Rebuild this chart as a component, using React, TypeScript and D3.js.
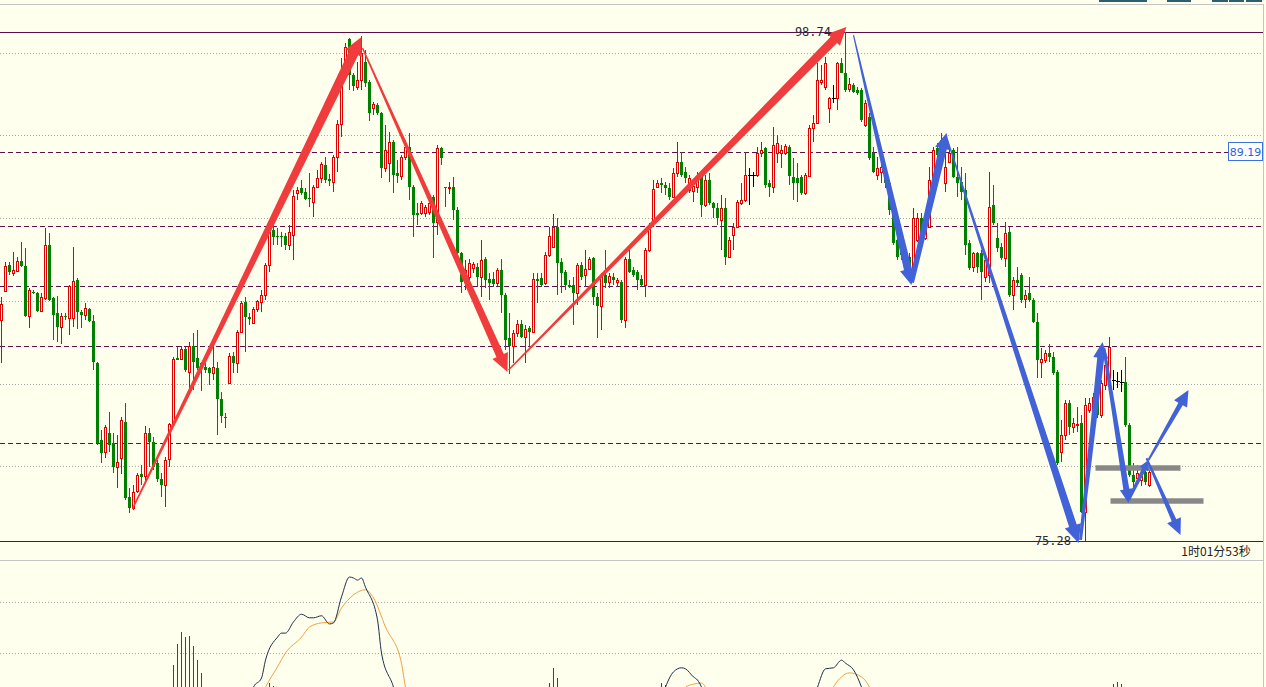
import React from 'react';
import * as d3 from 'd3';

// ---------- DATA ----------
const opens = [
  85.47, 86.80, 88.00, 87.63, 87.73, 88.19, 87.96, 85.65, 86.76, 86.71,
  85.88, 86.48, 88.93, 86.48, 85.79, 85.15, 85.65, 85.56, 85.56, 87.31,
  85.84, 85.70, 85.98, 85.42, 83.49, 79.94, 79.38, 80.26, 79.80, 78.69,
  79.11, 80.77, 77.31, 76.80, 77.59, 78.37, 78.28, 80.26, 79.84, 78.88,
  78.14, 77.86, 79.06, 80.67, 83.72, 83.67, 84.13, 83.07, 84.27, 83.72,
  83.30, 83.30, 83.26, 83.03, 83.26, 81.83, 81.00, 82.56, 83.81, 83.49,
  84.91, 86.30, 85.61, 85.33, 85.98, 86.30, 86.62, 88.00, 89.62, 89.34,
  89.34, 89.34, 88.93, 89.38, 91.32, 91.55, 91.37, 91.09, 90.91, 91.60,
  92.01, 92.61, 91.97, 91.83, 92.98, 94.50, 96.99, 98.42, 96.76, 96.21,
  96.53, 97.36, 96.44, 95.24, 95.38, 95.01, 92.47, 92.70, 93.67, 92.24,
  92.10, 92.98, 93.44, 91.60, 90.40, 90.40, 90.40, 90.45, 91.14, 89.99,
  93.40, 91.60, 91.55, 91.60, 90.54, 88.56, 87.22, 87.45, 87.87, 87.91,
  87.45, 88.28, 87.36, 87.36, 87.17, 87.77, 86.62, 84.64, 84.27, 84.87,
  85.28, 84.68, 85.10, 84.91, 87.36, 87.40, 87.17, 88.46, 88.83, 89.76,
  88.14, 87.68, 87.08, 87.08, 86.71, 88.00, 87.54, 87.82, 88.32, 86.53,
  86.11, 87.54, 87.22, 87.45, 87.22, 87.22, 85.47, 88.28, 87.77, 87.68,
  87.36, 87.08, 88.69, 89.99, 91.60, 91.78, 91.69, 91.55, 91.14, 92.24,
  92.75, 92.29, 91.46, 91.41, 91.60, 92.06, 90.77, 91.92, 90.86, 90.63,
  90.08, 90.63, 88.37, 89.39, 89.76, 90.86, 91.00, 92.15, 92.15, 92.15,
  93.16, 93.40, 91.78, 91.60, 93.16, 93.16, 93.16, 93.44, 92.06, 92.01,
  92.06, 91.32, 92.10, 94.32, 94.55, 96.44, 96.21, 95.24, 95.70, 95.70,
  97.32, 96.85, 96.12, 96.30, 96.07, 96.07, 94.45, 94.82, 93.16, 92.15,
  92.29, 92.06, 91.78, 90.45, 89.15, 88.69, 88.56, 88.37, 87.91, 89.15,
  90.17, 89.25, 89.76, 91.92, 93.40, 93.76, 91.78, 92.75, 93.30, 92.06,
  91.83, 91.46, 89.01, 87.91, 88.56, 88.56, 87.45, 87.54, 90.77, 89.25,
  88.83, 88.32, 89.52, 86.62, 87.31, 87.54, 86.44, 86.71, 86.39, 85.38,
  83.53, 83.62, 83.95, 83.76, 83.07, 79.39, 80.17, 81.64, 80.54, 80.63,
  80.72, 76.62, 81.32, 81.18, 81.92, 81.09, 82.47, 82.79, 82.70, 82.65,
  82.61, 82.61, 80.63, 78.32, 78.19, 78.09, 78.46, 77.86,
];
const highs = [
  86.53, 88.14, 88.14, 88.60, 88.37, 89.06, 88.79, 86.94, 86.85, 86.76,
  86.71, 89.71, 89.48, 86.53, 86.57, 85.79, 85.79, 87.08, 88.83, 87.40,
  85.93, 86.25, 86.02, 85.70, 83.53, 80.40, 80.63, 81.23, 80.26, 80.17,
  81.00, 81.64, 77.72, 77.86, 78.42, 78.78, 80.58, 80.49, 80.07, 79.02,
  78.42, 79.15, 80.72, 83.76, 84.22, 84.27, 84.22, 84.45, 84.87, 85.01,
  83.53, 83.49, 83.30, 84.45, 83.53, 82.15, 81.18, 83.95, 83.99, 85.01,
  86.34, 86.53, 85.79, 86.07, 86.39, 86.85, 88.10, 90.08, 89.85, 89.71,
  89.52, 89.48, 89.85, 91.46, 91.60, 91.92, 91.55, 92.24, 91.69, 92.38,
  92.75, 92.98, 92.20, 93.07, 94.69, 97.55, 98.24, 98.47, 96.85, 97.36,
  98.56, 97.91, 96.53, 95.52, 95.47, 95.06, 94.46, 94.13, 93.76, 92.84,
  93.07, 93.76, 94.09, 91.69, 90.86, 90.95, 90.77, 91.28, 91.23, 93.53,
  93.44, 91.60, 91.83, 92.06, 90.68, 88.60, 88.23, 88.28, 88.14, 88.10,
  89.15, 88.37, 87.63, 87.68, 87.87, 88.28, 86.71, 85.79, 85.01, 85.47,
  85.47, 85.24, 85.19, 87.63, 87.63, 87.63, 88.60, 89.76, 90.35, 90.17,
  88.32, 87.77, 87.31, 87.45, 88.10, 88.14, 88.69, 88.37, 88.37, 86.71,
  87.63, 88.69, 87.63, 87.63, 87.40, 87.31, 88.37, 88.69, 87.91, 87.77,
  87.54, 88.79, 89.94, 91.92, 91.92, 92.01, 91.83, 91.78, 92.47, 93.67,
  93.21, 92.52, 92.15, 91.92, 92.29, 92.29, 92.15, 92.24, 90.91, 90.86,
  91.23, 91.09, 89.29, 89.94, 91.00, 91.78, 93.21, 92.47, 92.29, 93.44,
  93.67, 93.44, 91.92, 94.36, 93.99, 93.53, 93.58, 93.53, 92.93, 92.70,
  92.15, 92.24, 94.46, 94.92, 97.32, 97.22, 97.59, 95.75, 96.30, 97.36,
  97.55, 98.74, 96.62, 96.39, 96.21, 96.16, 95.61, 95.01, 93.44, 92.98,
  92.61, 92.24, 91.92, 90.54, 89.29, 88.83, 88.60, 88.56, 90.63, 90.40,
  90.40, 89.94, 92.52, 93.44, 93.62, 94.09, 93.16, 93.44, 93.40, 93.44,
  92.52, 92.24, 89.15, 88.60, 88.60, 88.69, 88.37, 92.29, 91.69, 89.94,
  89.01, 89.99, 89.76, 87.45, 87.91, 87.63, 86.85, 87.45, 86.48, 85.79,
  84.18, 84.08, 84.36, 83.99, 83.16, 80.86, 81.78, 81.78, 80.95, 81.46,
  81.09, 81.87, 81.87, 82.10, 82.10, 82.70, 83.62, 84.68, 83.16, 83.07,
  83.16, 83.76, 80.72, 78.88, 78.78, 78.55, 78.65, 78.69,
];
const lows = [
  83.49, 86.75, 87.54, 87.50, 87.68, 87.91, 85.61, 85.10, 86.67, 85.84,
  85.84, 86.39, 86.34, 84.55, 84.45, 84.36, 85.47, 84.78, 85.15, 85.05,
  85.10, 85.47, 85.38, 83.16, 79.71, 78.88, 79.11, 79.38, 78.42, 77.72,
  78.37, 77.17, 76.57, 76.71, 77.49, 77.86, 77.95, 78.69, 78.55, 78.00,
  77.31, 76.85, 78.69, 80.54, 83.62, 83.62, 83.07, 82.10, 82.24, 83.16,
  82.19, 83.03, 82.47, 82.70, 80.17, 80.72, 80.49, 82.52, 83.03, 83.03,
  84.87, 83.99, 85.24, 85.30, 85.84, 85.84, 86.39, 87.68, 88.93, 88.93,
  88.83, 88.69, 88.69, 88.23, 91.00, 91.23, 91.00, 90.68, 90.22, 91.55,
  91.78, 91.78, 91.64, 91.37, 92.29, 93.90, 96.90, 96.07, 96.02, 96.07,
  96.07, 96.21, 94.64, 94.92, 94.92, 92.01, 92.29, 91.83, 91.32, 91.78,
  91.92, 92.84, 91.00, 89.29, 89.85, 90.31, 90.22, 90.31, 88.32, 89.39,
  92.61, 90.68, 91.28, 90.08, 88.37, 86.71, 86.85, 86.99, 87.63, 86.99,
  86.53, 86.94, 86.39, 86.99, 86.99, 85.79, 84.08, 82.98, 83.49, 84.68,
  84.64, 83.49, 84.22, 84.87, 86.25, 86.99, 87.08, 88.37, 88.79, 86.62,
  86.71, 86.85, 86.94, 85.24, 86.16, 87.31, 86.99, 87.77, 86.16, 84.64,
  85.01, 86.94, 86.94, 87.08, 86.99, 85.33, 85.10, 87.63, 87.45, 86.85,
  86.99, 86.53, 88.60, 89.76, 91.55, 91.32, 91.23, 91.00, 91.09, 92.06,
  92.06, 91.78, 91.32, 90.91, 91.32, 90.22, 90.68, 90.77, 90.17, 89.85,
  88.69, 88.00, 88.32, 88.69, 89.71, 90.77, 90.91, 90.77, 91.60, 92.06,
  92.98, 91.55, 91.14, 91.32, 92.70, 92.47, 93.07, 91.69, 91.00, 90.91,
  91.23, 91.23, 92.06, 93.67, 94.50, 96.30, 96.07, 94.55, 95.47, 95.15,
  96.85, 95.98, 95.98, 95.93, 95.84, 94.59, 94.36, 92.84, 92.24, 91.92,
  91.78, 91.55, 90.31, 88.92, 88.23, 88.23, 88.10, 87.77, 87.86, 89.06,
  89.06, 89.15, 89.71, 91.83, 92.84, 92.98, 91.37, 92.70, 92.01, 91.14,
  91.00, 88.46, 87.77, 87.68, 87.63, 86.39, 87.22, 87.17, 89.84, 88.60,
  88.23, 87.91, 86.53, 85.93, 86.99, 86.25, 86.02, 86.30, 85.33, 82.79,
  82.79, 83.49, 83.53, 82.93, 78.78, 78.92, 79.94, 80.17, 80.26, 80.31,
  76.57, 75.28, 81.18, 80.86, 80.95, 80.95, 82.24, 82.70, 82.24, 82.33,
  82.15, 80.54, 78.23, 77.77, 77.86, 77.82, 77.86, 77.77,
];
const closes = [
  86.21, 87.96, 87.68, 87.77, 88.19, 87.96, 85.65, 86.85, 86.71, 85.88,
  86.53, 88.93, 86.39, 85.70, 85.15, 85.65, 85.61, 87.03, 87.27, 85.84,
  85.70, 86.02, 85.42, 83.53, 79.80, 79.34, 80.54, 79.71, 78.69, 78.92,
  80.86, 77.26, 76.80, 77.54, 78.32, 78.23, 80.26, 79.84, 78.69, 78.14,
  77.86, 79.02, 80.67, 83.67, 83.62, 84.13, 83.16, 84.27, 83.53, 83.26,
  83.49, 83.16, 83.03, 83.30, 81.83, 81.04, 80.95, 83.81, 83.49, 84.91,
  86.25, 85.61, 85.51, 85.98, 86.34, 86.62, 88.00, 89.52, 89.29, 89.29,
  89.29, 88.93, 89.52, 91.18, 91.46, 91.32, 91.05, 91.05, 91.60, 92.01,
  92.66, 91.92, 91.87, 92.98, 94.50, 96.99, 98.05, 96.76, 96.26, 96.53,
  97.78, 96.39, 95.01, 95.43, 95.01, 92.47, 93.30, 93.67, 92.15, 92.10,
  92.98, 93.44, 91.60, 90.31, 90.31, 90.86, 90.68, 90.86, 89.94, 93.40,
  92.94, 91.55, 91.60, 90.54, 88.56, 87.22, 87.77, 88.10, 88.05, 87.45,
  88.23, 87.31, 87.17, 87.13, 87.77, 86.62, 84.55, 84.27, 84.87, 85.28,
  84.68, 85.05, 84.91, 87.36, 87.27, 87.08, 88.46, 89.34, 89.76, 88.10,
  87.63, 87.08, 86.99, 86.71, 88.00, 87.45, 87.82, 88.28, 86.53, 86.11,
  87.54, 87.17, 87.50, 87.31, 87.31, 85.47, 88.28, 87.68, 87.54, 87.31,
  87.08, 88.69, 89.75, 91.51, 91.78, 91.69, 91.55, 91.14, 92.24, 92.75,
  92.15, 92.01, 92.01, 91.64, 92.06, 90.77, 91.92, 90.86, 90.63, 90.17,
  90.63, 88.37, 89.15, 89.76, 90.91, 91.00, 92.15, 92.15, 92.15, 93.16,
  93.30, 91.69, 91.60, 93.53, 93.62, 93.30, 93.49, 92.10, 91.78, 91.78,
  91.32, 92.15, 94.32, 94.55, 96.53, 96.53, 97.32, 95.70, 95.70, 97.32,
  96.85, 96.07, 96.35, 95.98, 95.93, 94.69, 95.47, 92.93, 92.29, 92.47,
  92.52, 91.78, 90.54, 89.01, 88.37, 88.46, 88.23, 87.91, 90.17, 90.17,
  89.15, 89.76, 91.92, 93.30, 93.07, 93.40, 92.52, 93.16, 92.06, 91.78,
  91.37, 88.92, 87.87, 88.56, 87.91, 87.68, 88.23, 90.68, 89.94, 88.79,
  88.32, 89.48, 86.62, 87.31, 87.17, 86.39, 86.62, 86.39, 85.38, 83.62,
  83.67, 83.95, 83.76, 83.03, 78.88, 80.17, 81.64, 80.54, 80.72, 80.68,
  76.62, 81.55, 81.64, 81.92, 81.09, 82.56, 83.39, 84.22, 82.70, 82.65,
  82.61, 80.63, 78.32, 78.00, 78.42, 78.28, 78.00, 78.46,
];

const priceMax = 98.74;
const priceMin = 75.28;
const dashedLevels = [93.21, 89.8, 87.03, 84.27, 79.8];
const gridLevels = [97.77, 93.99, 90.17, 86.34, 82.52, 78.74];
const markerLabel = '89.19';
const timerLabel = '1时01分53秒';

// MACD panel
const macdGrid = [2, 1];
const histIdx = [43, 44, 45, 46, 47, 48, 49, 50, 67, 68, 137, 138, 139, 165, 166, 278, 279, 280];
const histVal = [0.76, 1.18, 1.41, 1.31, 1.33, 1.14, 0.86, 0.61, 0.41, 0.35, 0.41, 0.71, 0.51, 0.41, 0.37, 0.39, 0.43, 0.39];
const difSeg1 = [[62, 0.05], [63, 0.33], [65, 0.51], [66, 0.86], [69, 1.31], [70, 1.39], [71, 1.39], [73, 1.61], [75, 1.76], [77, 1.69], [78, 1.69], [80, 1.73], [82, 1.57], [83, 1.59], [85, 2.1], [87, 2.49], [88, 2.47], [89, 2.43], [90, 2.47], [91, 2.29], [94, 1.65], [95, 1.0], [98, 0.33], [99, 0.05]];
const difSeg2 = [[165, 0.1], [166, 0.33], [168, 0.63], [170, 0.71], [171, 0.69], [173, 0.53], [174, 0.47], [175, 0.33], [176, 0.1]];
const difSeg3 = [[203, 0.1], [204, 0.33], [206, 0.69], [208, 0.71], [210, 0.86], [211, 0.8], [213, 0.67], [215, 0.33], [216, 0.1]];
const deaSeg1 = [[64, 0.0], [66, 0.33], [69, 0.73], [71, 1.0], [75, 1.31], [77, 1.51], [80, 1.59], [83, 1.61], [85, 1.88], [88, 2.14], [91, 2.24], [93, 2.08], [96, 1.51], [100, 0.8], [101, 0.33], [103, 0.0]];
const deaSeg2 = [[170, 0.15], [171, 0.33], [173, 0.39], [175, 0.41], [176, 0.33], [177, 0.15]];
const deaSeg3 = [[207, 0.15], [208, 0.33], [210, 0.53], [212, 0.61], [215, 0.53], [217, 0.33], [218, 0.15]];

// Annotations (candle index, price)
const redArrows = [
  [[32.75, 76.76], [90, 98.51]],
  [[90.25, 98.0], [126.5, 83.07]],
  [[126.75, 83.16], [211.25, 98.97]],
];
const blueArrows = [
  [[213, 98.6], [227.5, 87.08]],
  [[227.5, 87.2], [236.25, 94.09]],
  [[236.5, 93.76], [269.25, 75.19]],
  [[269.75, 75.33], [275.25, 84.45]],
  [[275.6, 84.18], [281.75, 77.03]],
  [[281.75, 77.17], [286.75, 79.01]],
  [[286.75, 79.01], [296.75, 82.24]],
  [[286.25, 79.1], [294.75, 75.56]],
];
const supportBars = [
  [[273.5, 78.65], [294.75, 78.65]],
  [[277.25, 77.12], [300.5, 77.12]],
];

// ---------- STYLE ----------
const BG = '#FFFFEE';
const UP = '#e00000';
const DOWN = '#008000';
const PURPLE = '#5a1048';
const RED_ARROW = '#f03c3c';
const BLUE_ARROW = '#4262d8';
const redStyle = [[1.5, 10, 18, 18], [1.5, 8, 18, 17], [1.5, 9, 18, 17]];
const blueStyle = [[1.2, 8, 16, 16], [5, 8, 16, 16], [1.2, 8, 18, 17], [3, 7, 16, 15], [3, 6, 14, 13], [3, 4, 10, 10], [2, 5, 16, 15], [2, 5, 16, 15]];

function taper(x1: number, y1: number, x2: number, y2: number, w0: number, w1: number, hl: number, hw: number) {
  const dx = x2 - x1, dy = y2 - y1;
  const L = Math.hypot(dx, dy);
  const ux = dx / L, uy = dy / L;
  const nx = -uy, ny = ux;
  const bx = x2 - ux * hl, by = y2 - uy * hl;
  const pts: [number, number][] = [
    [x1 + nx * w0 / 2, y1 + ny * w0 / 2],
    [bx + nx * w1 / 2, by + ny * w1 / 2],
    [bx + nx * hw / 2, by + ny * hw / 2],
    [x2, y2],
    [bx - nx * hw / 2, by - ny * hw / 2],
    [bx - nx * w1 / 2, by - ny * w1 / 2],
    [x1 - nx * w0 / 2, y1 - ny * w0 / 2],
  ];
  return (d3.line()(pts) || '') + 'Z';
}

export default function App() {
  const W = 1266, H = 687;
  const x = d3.scaleLinear().domain([0, 287]).range([1.5, 1149.5]);
  const y = d3.scaleLinear().domain([priceMin, priceMax]).range([541, 32]);
  const ym = d3.scaleLinear().domain([0, 2]).range([704, 602]);
  const fmt = d3.format('.2f');
  const lineM = d3.line<number[]>().x(d => x(d[0])).y(d => ym(d[1])).curve(d3.curveMonotoneX);
  const crisp = (v: number) => Math.round(v) + 0.5;

  const candles = opens.map((o, i) => {
    const c = closes[i];
    const hi = Math.max(highs[i], o, c), lo = Math.min(lows[i], o, c);
    const cx = x(i);
    const yt = Math.round(y(Math.max(o, c)));
    const yb = Math.round(y(Math.min(o, c)));
    const yh = Math.round(y(hi));
    const yl = Math.round(y(lo));
    if (c > o) {
      return (
        <g key={i} stroke={UP}>
          <line x1={cx} x2={cx} y1={yh} y2={yt} />
          <line x1={cx} x2={cx} y1={yb} y2={yl} />
          <rect x={cx - 1} y={yt + 0.5} width={2} height={Math.max(yb - yt, 1)} fill={BG} />
        </g>
      );
    } else if (c < o) {
      return (
        <g key={i}>
          <line x1={cx} x2={cx} y1={yh} y2={yl} stroke={DOWN} />
          <rect x={cx - 1.5} y={yt} width={3} height={Math.max(yb - yt, 1)} fill={DOWN} />
        </g>
      );
    }
    return (
      <g key={i} stroke="#000">
        <line x1={cx} x2={cx} y1={yh} y2={yl} />
        <line x1={cx - 2} x2={cx + 2} y1={yt + 0.5} y2={yt + 0.5} />
      </g>
    );
  });

  return (
    <svg width={W} height={H} style={{ position: 'absolute', left: 0, top: 0, display: 'block' }}>
      <rect x={0} y={0} width={W} height={H} fill={BG} />
      {/* top tabs */}
      <g fill="#2f5f6f">
        <rect x={1099} y={0} width={48} height={2} />
        <rect x={1167} y={0} width={24} height={2} />
        <rect x={1212} y={0} width={16} height={2} />
        <rect x={1229} y={0} width={15} height={2} />
        <rect x={1246} y={0} width={16} height={2} />
      </g>
      <g shapeRendering="crispEdges">
        <line x1={0} x2={1263} y1={4.5} y2={4.5} stroke="#c4c4c4" />
        <line x1={1263.5} x2={1263.5} y1={4} y2={H} stroke="#c4c4c4" />
        <line x1={0} x2={1263} y1={560.5} y2={560.5} stroke="#c4c4c4" />
      </g>

      {/* grid */}
      <g stroke="#a8a8a8" strokeDasharray="1,2" shapeRendering="crispEdges">
        {gridLevels.map((p, i) => (
          <line key={i} x1={0} x2={1263} y1={crisp(y(p))} y2={crisp(y(p))} />
        ))}
        {macdGrid.map((v, i) => (
          <line key={'m' + i} x1={0} x2={1263} y1={crisp(ym(v))} y2={crisp(ym(v))} />
        ))}
      </g>
      <g stroke={PURPLE} strokeDasharray="5,3" shapeRendering="crispEdges">
        {dashedLevels.map((p, i) => (
          <line key={i} x1={0} x2={1263} y1={crisp(y(p))} y2={crisp(y(p))} />
        ))}
      </g>
      <g stroke={PURPLE} shapeRendering="crispEdges">
        <line x1={0} x2={1263} y1={crisp(y(priceMax))} y2={crisp(y(priceMax))} />
        <line x1={0} x2={1263} y1={crisp(y(priceMin))} y2={crisp(y(priceMin))} />
      </g>

      {/* candles */}
      <g shapeRendering="crispEdges" strokeWidth={1}>{candles}</g>

      {/* MACD */}
      <g stroke="#e80000" shapeRendering="crispEdges">
        {histIdx.map((k, i) => (
          <line key={i} x1={x(k)} x2={x(k)} y1={ym(histVal[i])} y2={H} />
        ))}
      </g>
      <g fill="none" strokeWidth={1}>
        {[deaSeg1, deaSeg2, deaSeg3].map((s, i) => (
          <path key={'a' + i} d={lineM(s) || ''} stroke="#f0a040" />
        ))}
        {[difSeg1, difSeg2, difSeg3].map((s, i) => (
          <path key={'b' + i} d={lineM(s) || ''} stroke="#1c2e4a" />
        ))}
      </g>

      {/* support bars */}
      <g stroke="#888888" strokeWidth={5.5}>
        {supportBars.map((b, i) => (
          <line key={i} x1={x(b[0][0])} x2={x(b[1][0])} y1={y(b[0][1])} y2={y(b[1][1])} />
        ))}
      </g>

      {/* arrows */}
      <g fill={RED_ARROW}>
        {redArrows.map((a, i) => {
          const s = redStyle[i];
          return <path key={i} d={taper(x(a[0][0]), y(a[0][1]), x(a[1][0]), y(a[1][1]), s[0], s[1], s[2], s[3])} />;
        })}
      </g>
      <g fill={BLUE_ARROW}>
        {blueArrows.map((a, i) => {
          const s = blueStyle[i];
          return <path key={i} d={taper(x(a[0][0]), y(a[0][1]), x(a[1][0]), y(a[1][1]), s[0], s[1], s[2], s[3])} />;
        })}
      </g>

      {/* labels */}
      <g fontFamily="'DejaVu Sans Mono', monospace" fontSize={12} fill="#2a2a3a">
        <text x={831} y={y(priceMax) + 4} textAnchor="end">{fmt(priceMax)}</text>
        <text x={1071} y={y(priceMin) + 4} textAnchor="end">{fmt(priceMin)}</text>
      </g>
      <g>
        <rect x={1228.5} y={Math.round(y(dashedLevels[0])) - 9.5} width={34} height={18} fill="#ffffff" stroke="#3a72e0" />
        <text x={1245.5} y={Math.round(y(dashedLevels[0])) + 4} textAnchor="middle" fontFamily="'DejaVu Sans', sans-serif" fontSize={11} fill="#2a62d8">{markerLabel}</text>
      </g>
      <text x={1216} y={556} textAnchor="middle" fontFamily="'Noto Sans CJK SC', sans-serif" fontSize={12} fill="#222">{timerLabel}</text>
    </svg>
  );
}
